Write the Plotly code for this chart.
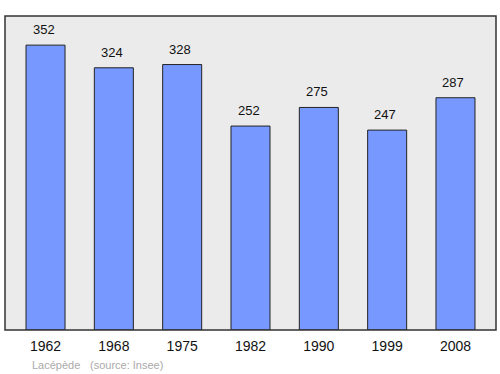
import plotly.graph_objects as go

years = ["1962", "1968", "1975", "1982", "1990", "1999", "2008"]
population = [352, 324, 328, 252, 275, 247, 287]
commune = "Lacépède"
source = "(source: Insee)"

fig = go.Figure()
fig.add_trace(go.Bar(
    x=years, y=population, width=0.571,
    marker=dict(color="#7799ff", line=dict(color="#222222", width=1)),
    hoverinfo="skip",
))
for i, v in enumerate(population):
    fig.add_annotation(x=i, y=v, text=str(v), showarrow=False, yanchor="bottom",
                       yshift=6, xshift=-2, font=dict(size=13, color="#111111", family="Liberation Sans, Arial"))

fig.add_annotation(xref="paper", yref="paper", x=(30-5)/491, y=-(365-330)/314, text=commune,
                   showarrow=False, xanchor="left", yanchor="middle",
                   font=dict(size=11, color="#aaaaaa", family="Liberation Sans, Arial"))
fig.add_annotation(xref="paper", yref="paper", x=(88-5)/491, y=-(365-330)/314, text=source,
                   showarrow=False, xanchor="left", yanchor="middle",
                   font=dict(size=11, color="#aaaaaa", family="Liberation Sans, Arial"))

fig.add_shape(type="rect", xref="paper", yref="paper", x0=0, y0=0, x1=1, y1=1,
              line=dict(color="#333333", width=1.5), layer="above")

fig.update_layout(
    width=500, height=374,
    margin=dict(l=5, r=4, t=16, b=44),
    plot_bgcolor="#ebebeb", paper_bgcolor="white",
    showlegend=False,
    xaxis=dict(type="category", range=[-0.593, 6.593], showgrid=False, zeroline=False,
               ticks="", tickfont=dict(size=14, color="#111111", family="Liberation Sans, Arial"),
               ticklabelstandoff=6),
    yaxis=dict(range=[0, 388], showgrid=False, zeroline=False, showticklabels=False, ticks=""),
)
fig.write_html("out.html")
